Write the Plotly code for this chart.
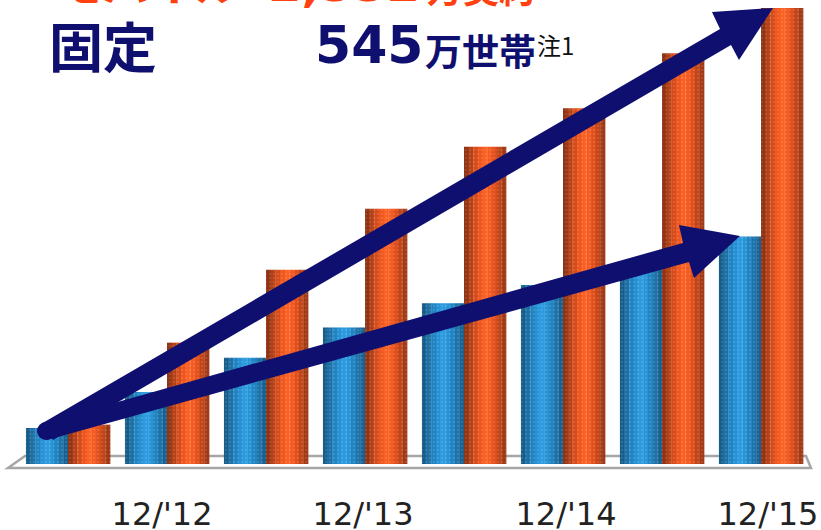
import plotly.graph_objects as go

categories = list(range(8))
blue_values = [43, 86, 127, 163, 192, 214, 234, 272]
orange_values = [47, 145, 232, 305, 379, 425, 491, 545]
tick_positions = [0.95, 2.98, 5.03, 7.07]
tick_labels = ["12/'12", "12/'13", "12/'14", "12/'15"]

BAR = 0.425
blue_shades = ["#155c8a", "#1a6fa6", "#1f82c0", "#2390d4", "#2a9ae0", "#2593d6", "#1f84c2", "#1a72aa", "#165f90"]
orange_shades = ["#8f3212", "#b53f14", "#d54a18", "#ee551c", "#fb5f22", "#f5591e", "#e14e1a", "#c24316", "#a03813"]
N = len(blue_shades)
sw = BAR / N

fig = go.Figure()
for vals, shades, start in ((blue_values, blue_shades, -BAR), (orange_values, orange_shades, 0.0)):
    for j, c in enumerate(shades):
        fig.add_bar(
            x=categories, y=vals, width=sw * 1.06, offset=start + j * sw,
            marker=dict(color=c, line_width=0),
            showlegend=False, hoverinfo="skip",
        )
    fig.add_bar(
        x=categories, y=vals, width=BAR, offset=start,
        marker=dict(color="rgba(0,0,0,0)", line_width=0,
                    pattern=dict(shape=".", size=4, solidity=0.35,
                                 fgcolor="rgba(255,255,255,0.22)", bgcolor="rgba(0,0,0,0)")),
        showlegend=False, hoverinfo="skip",
    )

navy = "#0f0f70"
PLOT_H = 464

def px(x, y):
    return f"{x/821:.4f} {1-y/PLOT_H:.4f}"

floor = [(8, 468), (25, 456), (806, 456), (811, 468)]
shapes = [dict(type="path", xref="paper", yref="paper", layer="below",
               path="M " + " L ".join(px(*p) for p in floor) + " Z",
               fillcolor="rgba(0,0,0,0)", line=dict(color="#a6a6a6", width=2.5))]

arrow1 = [(41, 424), (720, 29), (712, 12), (773, 8), (739, 60), (731, 45), (53, 440)]
arrow2 = [(43, 423), (683, 243), (679, 225), (740, 236), (694, 278), (689, 262), (47, 440)]
for poly in (arrow1, arrow2):
    shapes.append(dict(type="path", xref="paper", yref="paper",
                       path="M " + " L ".join(px(*p) for p in poly) + " Z",
                       fillcolor=navy, line_width=0))
shapes.append(dict(type="circle", xref="paper", yref="paper",
                   x0=37/821, x1=55/821, y0=1-440/PLOT_H, y1=1-422/PLOT_H,
                   fillcolor=navy, line_width=0))

cjk = "Noto Sans CJK JP"
def note(text, x, y, size, color, font=cjk):
    return dict(text=text, x=x/821, y=1-y/PLOT_H, xref="paper", yref="paper",
                xanchor="left", yanchor="middle", showarrow=False,
                font=dict(family=font, size=size, color=color))

orange_text = "#ff4010"
annotations = [
    note("<b>モバイル</b>", 55, -19, 46, orange_text),
    note("<b>2,552</b>", 266, -16, 48, orange_text, "DejaVu Sans"),
    note("<b>万契約</b>", 425, -13, 36, orange_text),
    note("<b>固定</b>", 47, 44, 54, navy),
    note("<b>545</b>", 313, 45, 52, navy, "DejaVu Sans"),
    note("<b>万世帯</b>", 423, 50, 37, navy),
    note("注1", 535, 45, 24, "#111111"),
]

fig.update_layout(
    width=821, height=530, margin=dict(l=0, r=0, t=0, b=530-PLOT_H),
    paper_bgcolor="white", plot_bgcolor="rgba(0,0,0,0)",
    barmode="overlay", shapes=shapes, annotations=annotations,
    xaxis=dict(range=[-0.687, 7.606], tickvals=tick_positions, ticktext=tick_labels, automargin=False,
               tickfont=dict(family="DejaVu Sans", size=32, color="#222222"),
               ticks="outside", ticklen=22, tickcolor="rgba(0,0,0,0)", showgrid=False, zeroline=False, showline=False),
    yaxis=dict(range=[0, 554.5], visible=False),
)
fig.write_html("out.html", config={"displayModeBar": False},
               post_script="document.body.style.margin='0';document.documentElement.style.overflow='hidden';")
